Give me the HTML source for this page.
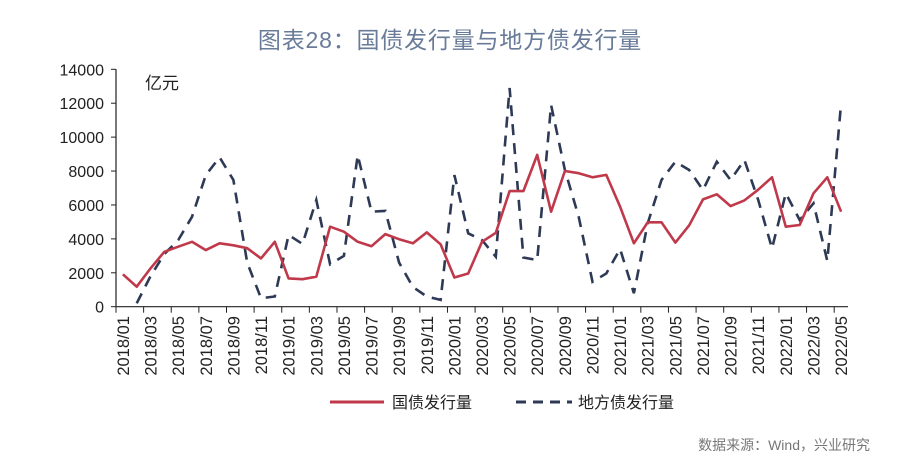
<!DOCTYPE html>
<html><head><meta charset="utf-8">
<style>
html,body{margin:0;padding:0;background:#fff;}
body{width:900px;height:468px;overflow:hidden;font-family:"Liberation Sans","Noto Sans CJK SC",sans-serif;}
</style></head>
<body>
<svg id="chart" width="900" height="468" xmlns="http://www.w3.org/2000/svg" font-family="Liberation Sans, Noto Sans CJK SC, sans-serif">
<text x="450" y="48" text-anchor="middle" font-size="23" fill="#687b98" letter-spacing="0.8">图表28：国债发行量与地方债发行量</text>
<text x="145" y="89" font-size="17" fill="#222">亿元</text>
<g id="axes"></g>
<g id="series"></g>
<g>
<line x1="330" y1="402" x2="384" y2="402" stroke="#c0394b" stroke-width="3"/>
<text x="392" y="408" font-size="16" fill="#222">国债发行量</text>
<line x1="516" y1="402" x2="572" y2="402" stroke="#2e3a55" stroke-width="3" stroke-dasharray="10,7"/>
<text x="578" y="408" font-size="16" fill="#222">地方债发行量</text>
</g>
<text x="870" y="450" text-anchor="end" font-size="14" fill="#777">数据来源：Wind，兴业研究</text>
</svg>
<script>
const yTicks=[0,2000,4000,6000,8000,10000,12000,14000];
const treasury=[1910,1180,2260,3240,3540,3830,3340,3740,3620,3450,2850,3830,1670,1620,1770,4720,4420,3830,3570,4280,3980,3740,4380,3680,1720,1960,3830,4360,6820,6820,8950,5600,8000,7870,7630,7770,5900,3740,4980,4980,3780,4800,6330,6630,5930,6270,6900,7630,4720,4820,6690,7630,5600];
const localBonds=[null,200,1800,3100,3930,5300,7760,8810,7470,2600,500,600,4230,3700,6290,2500,3000,8940,5600,5650,2600,1160,600,400,7760,4330,3930,2950,12900,2900,2750,11890,8060,5300,1470,1960,3400,790,4920,7470,8550,8060,6880,8550,7470,8650,6300,3440,6690,5110,6100,2700,12000];
const startYear=2018,startMonth=1;
const NS="http://www.w3.org/2000/svg";
const X0=116,X1=848,Y0=306.7,YTOP=69.3,YMAX=14000;
const n=treasury.length, step=(X1-X0)/n;
function xPos(i){return X0+step*(i+0.5);}
function yPos(v){return Y0-(v/YMAX)*(Y0-YTOP);}
function mk(tag,attrs,parent){const e=document.createElementNS(NS,tag);for(const k in attrs)e.setAttribute(k,attrs[k]);parent.appendChild(e);return e;}
const axes=document.getElementById('axes'), series=document.getElementById('series');
let yl=mk('line',{x1:X0,y1:YTOP,x2:X0,y2:Y0,stroke:'#222','stroke-width':1.2},axes);


let xl=mk('line',{x1:X0,y1:Y0,x2:X1,y2:Y0,stroke:'#222','stroke-width':1.2},axes);


yTicks.forEach(v=>{
  const y=yPos(v);
  let t=mk('line',{x1:X0-5,y1:y,x2:X0,y2:y,stroke:'#222','stroke-width':1},axes);
  
  
  let tx=mk('text',{x:X0-12,y:y+6,'text-anchor':'end','font-size':16,fill:'#222'},axes);
  tx.textContent=v;
  
  
});
for(let i=0;i<=n;i+=2){
  const x=X0+step*i;
  let t=mk('line',{x1:x,y1:Y0,x2:x,y2:Y0+6,stroke:'#222','stroke-width':1},axes);
  
  
}
for(let i=0;i<n;i+=2){
  const m=startMonth-1+i, yr=startYear+Math.floor(m/12), mo=(m%12)+1;
  const lab=yr+'/'+(mo<10?'0':'')+mo;
  const x=xPos(i)+6;
  let tx=mk('text',{x:x,y:316,'text-anchor':'end','font-size':16.5,fill:'#222',transform:'rotate(-90 '+x+' 316)'},axes);
  tx.textContent=lab;
  
  
}
function pathFor(arr){let d='',pen=false;arr.forEach((v,i)=>{if(v===null){pen=false;return;}d+=(pen?'L':'M')+xPos(i).toFixed(1)+','+yPos(v).toFixed(1);pen=true;});return d;}
let lp=mk('path',{d:pathFor(localBonds),fill:'none',stroke:'#2e3a55','stroke-width':2.6,'stroke-dasharray':'11,8'},series);


let tp=mk('path',{d:pathFor(treasury),fill:'none',stroke:'#c0394b','stroke-width':2.6,'stroke-linejoin':'round'},series);


</script>
</body></html>
